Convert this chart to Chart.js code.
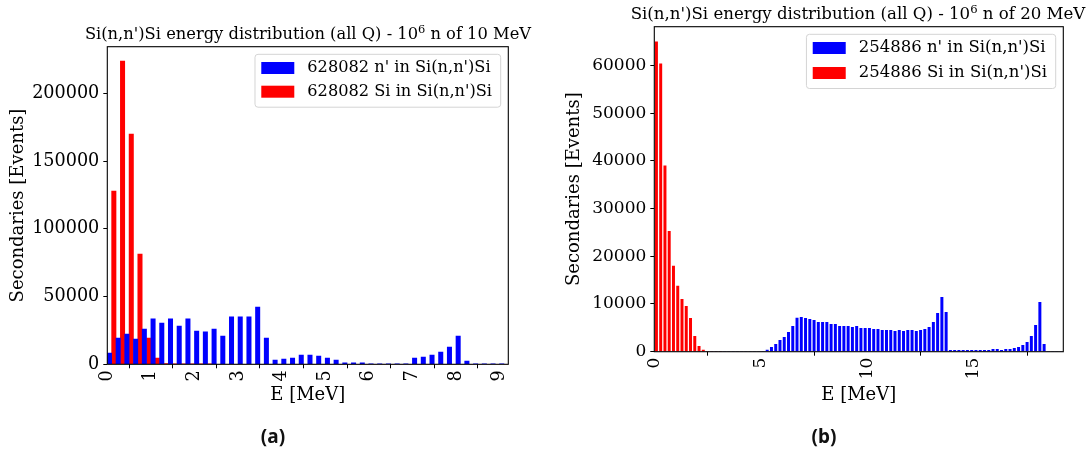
<!DOCTYPE html>
<html>
<head>
<meta charset="utf-8">
<script src="https://cdn.jsdelivr.net/npm/chart.js@4.4.1/dist/chart.umd.min.js"></script>
<style>
    html, body { margin: 0; padding: 0; background: #fff; overflow: hidden; }
    body { width: 1089px; height: 452px; position: relative; font-family: 'DejaVu Serif', serif; }
    canvas { position: absolute; top: 0; }
    .title { position: absolute; width: 600px; text-align: center; line-height: 18px; color: #000; white-space: nowrap; }
    .title sup { line-height: 0; vertical-align: 6px; }
    .caption { position: absolute; top: 423px; width: 80px; text-align: center; font-family: 'Noto Sans', sans-serif; font-weight: bold; font-size: 19px; line-height: 26px; color: #111; }
</style>
</head>
<body>
<canvas id="chartA" width="545" height="452" style="left:0"></canvas>
<canvas id="chartB" width="544" height="452" style="left:545px"></canvas>
<div class="title" style="left:8px;top:25px;font-size:16.3px">Si(n,n')Si energy distribution (all Q) - 10<sup style="font-size:11.4px">6</sup> n of 10 MeV</div>
<div class="title" style="left:558px;top:5px;font-size:16.6px">Si(n,n')Si energy distribution (all Q) - 10<sup style="font-size:11.6px">6</sup> n of 20 MeV</div>
<div class="caption" style="left:233px">(a)</div>
<div class="caption" style="left:784px">(b)</div>
<script>
// energy bins are 0.2 MeV wide, values are counts per bin
const binWidth = 0.2;

// (a) 10 MeV neutrons
const labelsA = ["628082 n' in Si(n,n')Si", "628082 Si in Si(n,n')Si"];
const neutronA = [
    8350, 19400, 22400, 18700, 26100, 33500, 30500, 33500, 28300, 33500,
    24600, 23900, 26100, 20900, 35000, 35000, 35000, 42300, 19400, 3200,
    3900, 4650, 6900, 6900, 6150, 4650, 3200, 1000, 1000, 1000,
    300, 300, 300, 300, 300, 4650, 5400, 6900, 9100, 12800,
    20900, 2450, 300, 300, 300, 300
];
const siliconA = [
    128000, 224000, 170000, 81500, 19400, 4650, 500, 400, 400, 300,
    300, 300, 0, 0, 0, 0, 0, 0, 0, 0,
    0, 0, 0, 0, 0, 0, 0, 0, 0, 0,
    0, 0, 0, 0, 0, 0, 0, 0, 0, 0,
    0, 0, 0, 0, 0, 0
];
const xTicksA = [0, 1, 2, 3, 4, 5, 6, 7, 8, 9];
const yTicksA = [0, 50000, 100000, 150000, 200000];

// (b) 20 MeV neutrons
const labelsB = ["254886 n' in Si(n,n')Si", "254886 Si in Si(n,n')Si"];
const neutronB = [
    150, 150, 150, 150, 150, 150, 150, 150, 150, 150,
    150, 150, 150, 150, 150, 150, 150, 150, 150, 150,
    150, 150, 150, 150, 150, 150, 420, 980, 1600, 2450,
    3070, 4120, 5380, 7130, 7270, 7060, 6850, 6640, 6220, 6220,
    6220, 5800, 5800, 5380, 5380, 5380, 5170, 5380, 4960, 4960,
    4960, 4750, 4750, 4540, 4540, 4540, 4330, 4540, 4330, 4540,
    4540, 4330, 4540, 4750, 5170, 6220, 8110, 11460, 8320, 350,
    350, 350, 350, 350, 350, 350, 350, 350, 350, 560,
    560, 350, 560, 560, 770, 980, 1400, 2030, 3290, 5590,
    10400, 1600, 140, 140, 140, 140
];
const siliconB = [
    65000, 60400, 39000, 25300, 18000, 13800, 11050, 9600, 7060, 3300,
    1200, 420, 150, 150, 150, 150, 0, 0, 0, 0,
    0, 0, 0, 0, 0, 0, 0, 0, 0, 0,
    0, 0, 0, 0, 0, 0, 0, 0, 0, 0,
    0, 0, 0, 0, 0, 0, 0, 0, 0, 0,
    0, 0, 0, 0, 0, 0, 0, 0, 0, 0,
    0, 0, 0, 0, 0, 0, 0, 0, 0, 0,
    0, 0, 0, 0, 0, 0, 0, 0, 0, 0,
    0, 0, 0, 0, 0, 0, 0, 0, 0, 0,
    0, 0, 0, 0, 0, 0
];
const xTicksB = [0, 5, 10, 15];
const yTicksB = [0, 10000, 20000, 30000, 40000, 50000, 60000];

const BLUE = '#0000ff';
const RED = '#ff0000';
const FONT = 'DejaVu Serif';

// bar sits at the centre of its bin
const toPoints = values => values.map((v, i) => ({x: +((i + 0.5) * binWidth).toFixed(2), y: v}));

// matplotlib style box around the axes
const framePlugin = {
    id: 'frame',
    afterDatasetsDraw(chart) {
        const {ctx, chartArea: a} = chart;
        ctx.save();
        ctx.strokeStyle = '#000';
        ctx.lineWidth = 1.1;
        ctx.strokeRect(a.left, a.top, a.right - a.left, a.bottom - a.top);
        ctx.restore();
    }
};

// legend inside the axes, upper right
const boxLegend = {
    id: 'boxLegend',
    afterDraw(chart, args, opts) {
        const {ctx, chartArea: a} = chart;
        const sets = chart.data.datasets;
        ctx.save();
        ctx.font = opts.size + 'px "' + FONT + '"';
        const textW = Math.max(...sets.map(d => ctx.measureText(d.label).width));
        const w = 52 + textW + 9;
        const h = 13.7 + opts.rowGap * (sets.length - 1) + 15.5;
        const x = a.right - 7.6 - w;
        const y = a.top + 7.6;
        ctx.beginPath();
        ctx.roundRect(x, y, w, h, 3);
        ctx.fillStyle = 'rgba(255,255,255,0.8)';
        ctx.fill();
        ctx.strokeStyle = '#d4d4d4';
        ctx.lineWidth = 1;
        ctx.stroke();
        ctx.textBaseline = 'middle';
        sets.forEach((d, i) => {
            const cy = y + 13.7 + i * opts.rowGap;
            ctx.fillStyle = d.backgroundColor;
            ctx.fillRect(x + 6.3, cy - 6, 33, 12);
            ctx.fillStyle = '#000';
            ctx.fillText(d.label, x + 52.3, cy);
        });
        ctx.restore();
    }
};

const tickGrid = {display: true, drawOnChartArea: false, drawTicks: true, tickLength: 4, color: '#000', lineWidth: 1};

const makeChart = (id, s) => new Chart(document.getElementById(id), {
    type: 'bar',
    data: {
        datasets: [
            {label: s.labels[0], data: toPoints(s.neutron), backgroundColor: BLUE, order: 1, grouped: s.grouped},
            {label: s.labels[1], data: toPoints(s.silicon), backgroundColor: RED, order: s.grouped ? 1 : 0, grouped: s.grouped}
        ]
    },
    options: {
        responsive: false,
        animation: false,
        categoryPercentage: 1,
        barPercentage: s.barPercentage,
        layout: {padding: s.padding},
        plugins: {
            legend: {display: false},
            title: {display: false},
            tooltip: {enabled: false},
            boxLegend: s.legend
        },
        scales: {
            x: {
                type: 'linear',
                min: 0,
                max: s.xMax,
                offset: false,
                grid: tickGrid,
                border: {display: false},
                afterBuildTicks: axis => { axis.ticks = s.xTicks.map(v => ({value: v})); },
                ticks: {
                    autoSkip: false,
                    minRotation: 90,
                    maxRotation: 90,
                    padding: 2,
                    color: '#000',
                    font: {family: FONT, size: s.tickSize},
                    callback: v => String(v)
                },
                title: {display: true, text: 'E [MeV]', color: '#000', font: {family: FONT, size: 18}, padding: {top: 0, bottom: s.xTitlePad}},
                afterFit: axis => { axis.height = s.xHeight; }
            },
            y: {
                min: 0,
                max: s.yMax,
                grid: tickGrid,
                border: {display: false},
                afterBuildTicks: axis => { axis.ticks = s.yTicks.map(v => ({value: v})); },
                ticks: {
                    padding: 4,
                    color: '#000',
                    font: {family: FONT, size: s.tickSize},
                    callback: v => String(v)
                },
                title: {display: true, text: 'Secondaries [Events]', color: '#000', font: {family: FONT, size: 18}, padding: {top: s.yTitlePad, bottom: 0}},
                afterFit: axis => { axis.width = s.yWidth; }
            }
        }
    },
    plugins: [framePlugin, boxLegend]
});

makeChart('chartA', {
    labels: labelsA, neutron: neutronA, silicon: siliconA,
    xTicks: xTicksA, yTicks: yTicksA,
    grouped: true, barPercentage: 1,
    xMax: 9.2, yMax: 234600,
    tickSize: 17.6,
    padding: {left: 0, top: 46.7, right: 36.7, bottom: 39.7},
    xHeight: 48, xTitlePad: 6.5,
    yWidth: 107.3, yTitlePad: 7.2,
    legend: {size: 16.2, rowGap: 23.7}
});

makeChart('chartB', {
    labels: labelsB, neutron: neutronB, silicon: siliconB,
    xTicks: xTicksB, yTicks: yTicksB,
    grouped: false, barPercentage: 0.7,
    xMax: 19.2, yMax: 68100,
    tickSize: 17,
    padding: {left: 0, top: 26.7, right: 25.7, bottom: 42.3},
    xHeight: 58, xTitlePad: 3.9,
    yWidth: 109.3, yTitlePad: 18.2,
    legend: {size: 16.5, rowGap: 25}
});
</script>
</body>
</html>
